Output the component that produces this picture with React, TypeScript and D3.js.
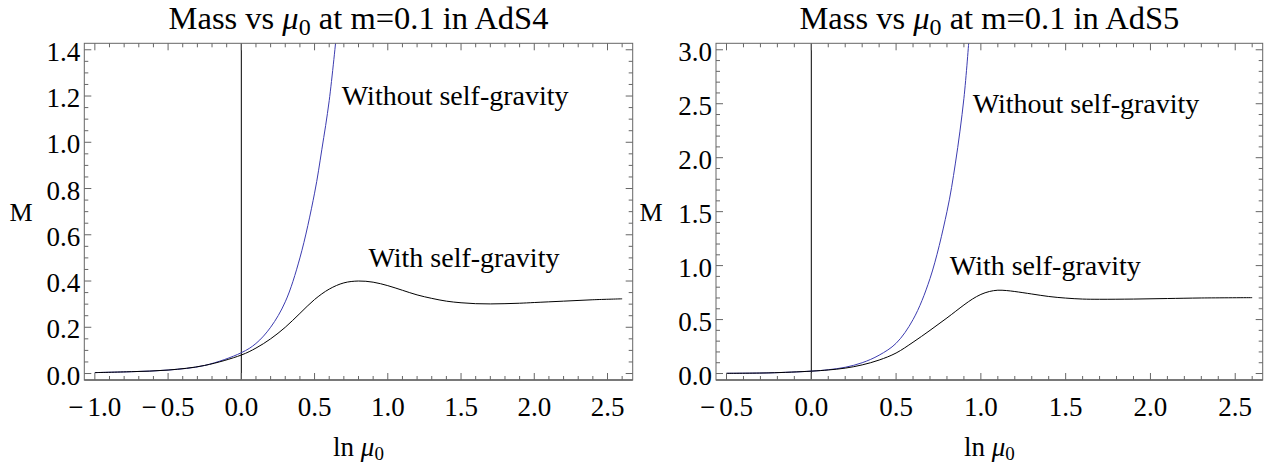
import React from 'react';
import * as d3 from 'd3';

// ---- AdS4 data ----
const ads4WithoutX = [-1.0, -0.75, -0.5, -0.25, 0.0, 0.1, 0.2, 0.3, 0.4, 0.5, 0.55, 0.6, 0.65];
const ads4WithoutM = [0.004, 0.008, 0.015, 0.035, 0.09, 0.13, 0.2, 0.31, 0.5, 0.78, 0.97, 1.18, 1.47];
const ads4WithX = [-1.0, -0.75, -0.5, -0.25, 0.0, 0.1, 0.2, 0.3, 0.4, 0.5, 0.6, 0.7, 0.8, 0.9, 1.0, 1.1, 1.2, 1.3, 1.4, 1.5, 1.6, 1.7, 1.8, 1.9, 2.0, 2.2, 2.4, 2.6];
const ads4WithM = [0.004, 0.008, 0.015, 0.035, 0.08, 0.11, 0.15, 0.2, 0.26, 0.32, 0.365, 0.392, 0.4, 0.395, 0.38, 0.36, 0.34, 0.325, 0.313, 0.306, 0.302, 0.301, 0.302, 0.304, 0.307, 0.313, 0.319, 0.323];
const ads4XTicks = [-1.0, -0.5, 0.0, 0.5, 1.0, 1.5, 2.0, 2.5];
const ads4YTicks = [0.0, 0.2, 0.4, 0.6, 0.8, 1.0, 1.2, 1.4];

// ---- AdS5 data ----
const ads5WithoutX = [-0.5, -0.25, 0.0, 0.1, 0.2, 0.3, 0.4, 0.5, 0.6, 0.7, 0.8, 0.85, 0.9, 0.93];
const ads5WithoutM = [0.002, 0.006, 0.022, 0.035, 0.058, 0.1, 0.17, 0.28, 0.5, 0.88, 1.5, 1.95, 2.55, 3.1];
const ads5WithX = [-0.5, -0.25, 0.0, 0.1, 0.2, 0.3, 0.4, 0.5, 0.6, 0.7, 0.8, 0.9, 0.95, 1.0, 1.05, 1.1, 1.15, 1.2, 1.3, 1.4, 1.5, 1.6, 1.7, 1.9, 2.1, 2.3, 2.6];
const ads5WithM = [0.002, 0.006, 0.022, 0.033, 0.05, 0.08, 0.125, 0.19, 0.29, 0.4, 0.515, 0.635, 0.69, 0.733, 0.76, 0.772, 0.769, 0.76, 0.737, 0.714, 0.699, 0.69, 0.688, 0.69, 0.695, 0.7, 0.703];
const ads5XTicks = [-0.5, 0.0, 0.5, 1.0, 1.5, 2.0, 2.5];
const ads5YTicks = [0.0, 0.5, 1.0, 1.5, 2.0, 2.5, 3.0];

const FONT = '"Liberation Serif", "Times New Roman", serif';
const FRAME = '#666';
const BLUE = '#3c3cb0';

type PanelProps = {
  id: string;
  left: number; right: number; top: number; bottom: number;
  xDomain: [number, number]; yDomain: [number, number];
  xTicks: number[]; yTicks: number[];
  xMinorStep: number; yMinorStep: number;
  withoutX: number[]; withoutM: number[]; withX: number[]; withM: number[];
  ads: string;
  mX: number;
  withoutPos: [number, number]; withPos: [number, number];
};

function fmt(v: number) {
  const s = Math.abs(v).toFixed(1);
  return v < -1e-9 ? (
    <>
      <tspan>−</tspan>
      <tspan dx={4}>{s}</tspan>
    </>
  ) : (
    s
  );
}

function Panel(p: PanelProps) {
  const x = d3.scaleLinear().domain(p.xDomain).range([p.left, p.right]);
  const y = d3.scaleLinear().domain(p.yDomain).range([p.bottom, p.top]);
  const line = d3
    .line<[number, number]>()
    .x((d) => x(d[0]))
    .y((d) => y(d[1]))
    .curve(d3.curveCatmullRom.alpha(0.5));
  const without = line(p.withoutX.map((v, i) => [v, p.withoutM[i]] as [number, number])) || '';
  const withG = line(p.withX.map((v, i) => [v, p.withM[i]] as [number, number])) || '';

  const xMinor: number[] = [];
  for (let v = Math.ceil(p.xDomain[0] / p.xMinorStep) * p.xMinorStep; v <= p.xDomain[1] + 1e-9; v += p.xMinorStep) {
    xMinor.push(Math.round(v * 1000) / 1000);
  }
  const yMinor: number[] = [];
  for (let v = Math.ceil(p.yDomain[0] / p.yMinorStep) * p.yMinorStep; v <= p.yDomain[1] + 1e-9; v += p.yMinorStep) {
    yMinor.push(Math.round(v * 1000) / 1000);
  }
  const isMajor = (v: number, ticks: number[]) => ticks.some((t) => Math.abs(t - v) < 1e-6);
  const cx = (p.left + p.right) / 2;
  const cy = (p.top + p.bottom) / 2;

  return (
    <g>
      <defs>
        <clipPath id={`clip-${p.id}`}>
          <rect x={p.left} y={p.top} width={p.right - p.left} height={p.bottom - p.top} />
        </clipPath>
      </defs>
      {/* title */}
      <text x={cx} y={29} textAnchor="middle" fontFamily={FONT} fontSize={32.5} fill="#000">
        Mass vs <tspan fontStyle="italic">μ</tspan>
        <tspan fontSize={24} dy={6}>0</tspan>
        <tspan dy={-6}> at m=0.1 in {p.ads}</tspan>
      </text>
      {/* curves */}
      <g clipPath={`url(#clip-${p.id})`}>
        <line x1={x(0)} x2={x(0)} y1={p.top} y2={p.bottom} stroke="#000" strokeWidth={1} />
        <path d={without} fill="none" stroke={BLUE} strokeWidth={1} />
        <path d={withG} fill="none" stroke="#000" strokeWidth={1} />
      </g>
      {/* frame */}
      <rect x={p.left} y={p.top} width={p.right - p.left} height={p.bottom - p.top} fill="none" stroke={FRAME} strokeWidth={1} />
      <line x1={p.left} x2={p.right} y1={p.bottom} y2={p.bottom} stroke={FRAME} strokeWidth={1.6} />
      {/* ticks */}
      {xMinor.map((v) => {
        const len = isMajor(v, p.xTicks) ? 7 : 4;
        return (
          <g key={`xt${v}`}>
            <line x1={x(v)} x2={x(v)} y1={p.bottom} y2={p.bottom - len} stroke={FRAME} strokeWidth={1} />
            <line x1={x(v)} x2={x(v)} y1={p.top} y2={p.top + len} stroke={FRAME} strokeWidth={1} />
          </g>
        );
      })}
      {yMinor.map((v) => {
        const len = isMajor(v, p.yTicks) ? 7 : 4;
        return (
          <g key={`yt${v}`}>
            <line x1={p.left} x2={p.left + len} y1={y(v)} y2={y(v)} stroke={FRAME} strokeWidth={1} />
            <line x1={p.right} x2={p.right - len} y1={y(v)} y2={y(v)} stroke={FRAME} strokeWidth={1} />
          </g>
        );
      })}
      {/* tick labels */}
      {p.xTicks.map((v) => (
        <text key={`xl${v}`} x={x(v)} y={416} textAnchor="middle" fontFamily={FONT} fontSize={27} fill="#000">
          {fmt(v)}
        </text>
      ))}
      {p.yTicks.map((v) => (
        <text key={`yl${v}`} x={p.left - 4} y={y(v) + 11} textAnchor="end" fontFamily={FONT} fontSize={27} fill="#000">
          {fmt(v)}
        </text>
      ))}
      {/* axis labels */}
      <text x={p.mX} y={cy + 9} textAnchor="middle" fontFamily={FONT} fontSize={26} fill="#000">
        M
      </text>
      <text x={cx} y={456} textAnchor="middle" fontFamily={FONT} fontSize={27} fill="#000">
        ln <tspan fontStyle="italic">μ</tspan>
        <tspan fontSize={19} dy={4}>0</tspan>
      </text>
      {/* annotations */}
      <text x={x(p.withoutPos[0])} y={y(p.withoutPos[1]) + 9} textAnchor="middle" fontFamily={FONT} fontSize={28} fill="#000">
        Without self-gravity
      </text>
      <text x={x(p.withPos[0])} y={y(p.withPos[1]) + 9} textAnchor="middle" fontFamily={FONT} fontSize={28} fill="#000">
        With self-gravity
      </text>
    </g>
  );
}

export default function App() {
  return (
    <svg width={1276} height={466} style={{ position: 'absolute', left: 0, top: 0, background: '#fff' }}>
      <rect x={0} y={0} width={1276} height={466} fill="#fff" />
      <Panel
        id="a"
        left={84.3} right={632.7} top={43.3} bottom={380}
        xDomain={[-1.072, 2.672]} yDomain={[-0.028, 1.428]}
        xTicks={ads4XTicks} yTicks={ads4YTicks}
        xMinorStep={0.1} yMinorStep={0.05}
        withoutX={ads4WithoutX} withoutM={ads4WithoutM}
        withX={ads4WithX} withM={ads4WithM}
        ads="AdS4"
        mX={21}
        withoutPos={[1.46, 1.2]} withPos={[1.52, 0.5]}
      />
      <Panel
        id="b"
        left={716} right={1262.7} top={43.3} bottom={380}
        xDomain={[-0.562, 2.662]} yDomain={[-0.06, 3.06]}
        xTicks={ads5XTicks} yTicks={ads5YTicks}
        xMinorStep={0.1} yMinorStep={0.1}
        withoutX={ads5WithoutX} withoutM={ads5WithoutM}
        withX={ads5WithX} withM={ads5WithM}
        ads="AdS5"
        mX={651}
        withoutPos={[1.62, 2.5]} withPos={[1.38, 1.0]}
      />
    </svg>
  );
}
